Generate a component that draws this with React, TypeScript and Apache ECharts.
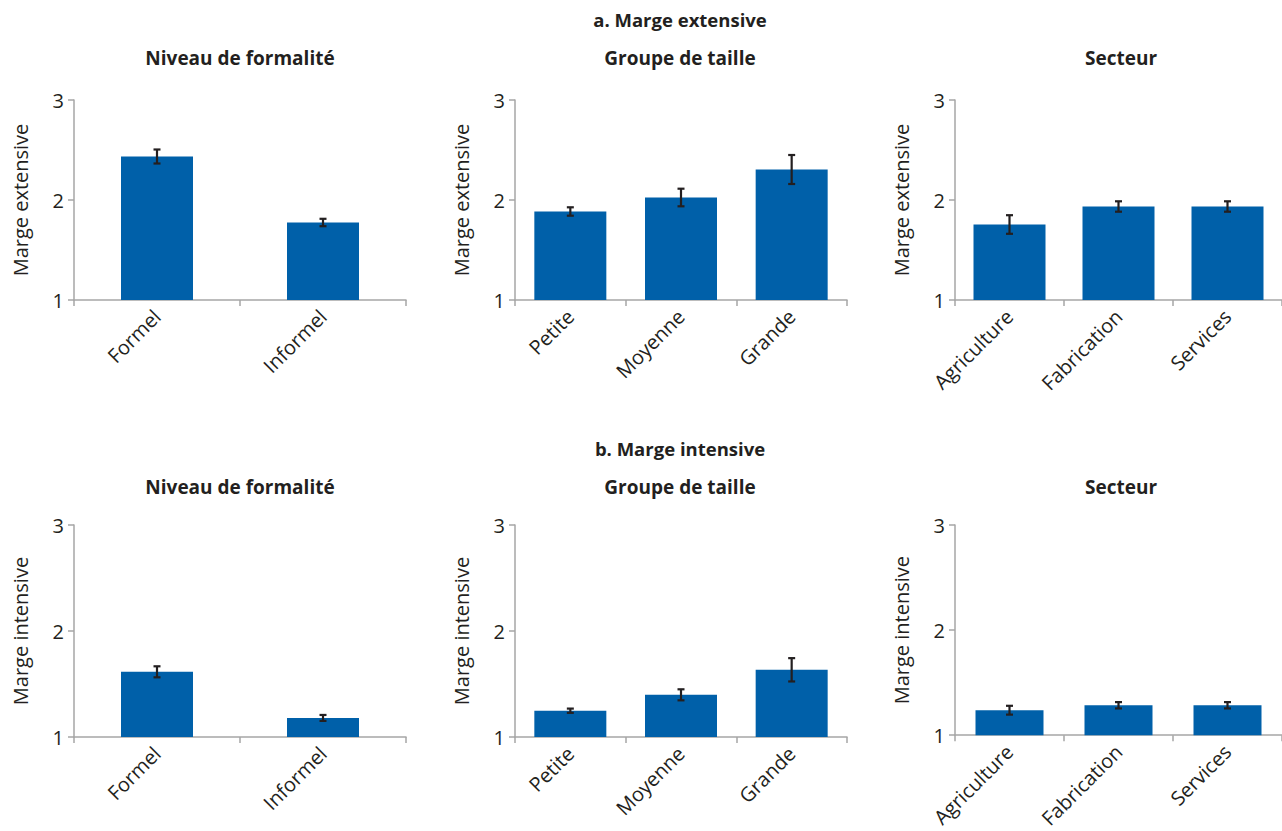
import React, { useEffect, useRef } from "react";
import * as echarts from "echarts";

// Categories
const formaliteCats = ["Formel", "Informel"];
const tailleCats = ["Petite", "Moyenne", "Grande"];
const secteurCats = ["Agriculture", "Fabrication", "Services"];

// a. Marge extensive: means and error half-widths
const formaliteExt = [2.435, 1.775];
const formaliteExtErr = [0.07, 0.037];
const tailleExt = [1.885, 2.025, 2.305];
const tailleExtErr = [0.042, 0.088, 0.145];
const secteurExt = [1.755, 1.935, 1.935];
const secteurExtErr = [0.093, 0.052, 0.052];

// b. Marge intensive: means and error half-widths
const formaliteInt = [1.615, 1.18];
const formaliteIntErr = [0.052, 0.028];
const tailleInt = [1.248, 1.398, 1.634];
const tailleIntErr = [0.02, 0.052, 0.11];
const secteurInt = [1.238, 1.285, 1.285];
const secteurIntErr = [0.042, 0.03, 0.03];

const yTicks = [1, 2, 3];

const FONT = "'Open Sans', 'Noto Sans', sans-serif";
const TEXT = "#231F20";
const AXIS = "#A6A6A6";
const BAR = "#0060A9";

export default function App() {
  const ref = useRef<HTMLDivElement>(null);

  useEffect(() => {
    if (!ref.current) return;
    const chart = echarts.init(ref.current, null, { renderer: "svg" });

    const panels = [
      { cats: formaliteCats, vals: formaliteExt, err: formaliteExtErr, left: 74, width: 332, top: 100, height: 200, name: "Marge extensive", bw: 72 },
      { cats: tailleCats, vals: tailleExt, err: tailleExtErr, left: 515, width: 332, top: 100, height: 200, name: "Marge extensive", bw: 72 },
      { cats: secteurCats, vals: secteurExt, err: secteurExtErr, left: 955, width: 333, top: 100, height: 200, name: "Marge extensive", bw: 72 },
      { cats: formaliteCats, vals: formaliteInt, err: formaliteIntErr, left: 74, width: 332, top: 525, height: 212, name: "Marge intensive", bw: 72 },
      { cats: tailleCats, vals: tailleInt, err: tailleIntErr, left: 515, width: 332, top: 525, height: 212, name: "Marge intensive", bw: 72 },
      { cats: secteurCats, vals: secteurInt, err: secteurIntErr, left: 955, width: 333, top: 525, height: 212, name: "Marge intensive", bw: 68 },
    ];

    const grid = panels.map((p) => ({ left: p.left, top: p.top, width: p.width, height: p.height, containLabel: false }));

    const xAxis = panels.map((p, i) => ({
      type: "category",
      gridIndex: i,
      data: p.cats,
      axisLine: { show: true, lineStyle: { color: AXIS, width: 1.5 } },
      axisTick: { show: true, length: 6, lineStyle: { color: AXIS, width: 1.5 } },
      axisLabel: { rotate: 45, fontSize: 20, color: TEXT, fontFamily: FONT, margin: 13 },
    }));

    const yAxis = panels.map((p, i) => ({
      type: "value",
      gridIndex: i,
      min: yTicks[0],
      max: yTicks[yTicks.length - 1],
      interval: 1,
      name: p.name,
      nameLocation: "middle",
      nameGap: 44,
      nameTextStyle: { fontSize: 20, color: TEXT, fontFamily: FONT },
      splitLine: { show: false },
      axisLine: { show: true, lineStyle: { color: AXIS, width: 1.5 } },
      axisTick: { show: true, length: 6, lineStyle: { color: AXIS, width: 1.5 } },
      axisLabel: { fontSize: 20, color: TEXT, fontFamily: FONT, margin: 10 },
    }));

    const series: any[] = [];
    panels.forEach((p, i) => {
      series.push({
        type: "bar",
        xAxisIndex: i,
        yAxisIndex: i,
        data: p.vals,
        barWidth: p.bw,
        itemStyle: { color: BAR },
      });
      series.push({
        type: "custom",
        xAxisIndex: i,
        yAxisIndex: i,
        data: p.vals.map((v, k) => [k, v - p.err[k], v + p.err[k]]),
        renderItem: (params: any, api: any) => {
          const x = api.value(0);
          const lo = api.coord([x, api.value(1)]);
          const hi = api.coord([x, api.value(2)]);
          const hw = 3.5;
          const style = { stroke: "#231F20", lineWidth: 2.2 };
          return {
            type: "group",
            children: [
              { type: "line", shape: { x1: lo[0], y1: lo[1], x2: hi[0], y2: hi[1] }, style },
              { type: "line", shape: { x1: hi[0] - hw, y1: hi[1], x2: hi[0] + hw, y2: hi[1] }, style },
              { type: "line", shape: { x1: lo[0] - hw, y1: lo[1], x2: lo[0] + hw, y2: lo[1] }, style },
            ],
          };
        },
        z: 5,
      });
    });

    const title = (text: string, x: number, y: number, size: number) => ({
      type: "text",
      x,
      y,
      style: {
        text,
        fill: TEXT,
        font: `bold ${size}px ${FONT}`,
        textAlign: "center",
        textVerticalAlign: "middle",
      },
    });

    chart.setOption({
      animation: false,
      grid,
      xAxis,
      yAxis,
      series,
      graphic: [
        title("a. Marge extensive", 680, 19, 18.5),
        title("Niveau de formalité", 240, 58, 19),
        title("Groupe de taille", 680, 58, 19),
        title("Secteur", 1121, 58, 19),
        title("b. Marge intensive", 680, 448, 18.5),
        title("Niveau de formalité", 240, 487, 19),
        title("Groupe de taille", 680, 487, 19),
        title("Secteur", 1121, 487, 19),
      ],
    });

    return () => chart.dispose();
  }, []);

  return (
    <div
      ref={ref}
      style={{ position: "fixed", left: 0, top: 0, width: 1282, height: 831, background: "#fff" }}
    />
  );
}
